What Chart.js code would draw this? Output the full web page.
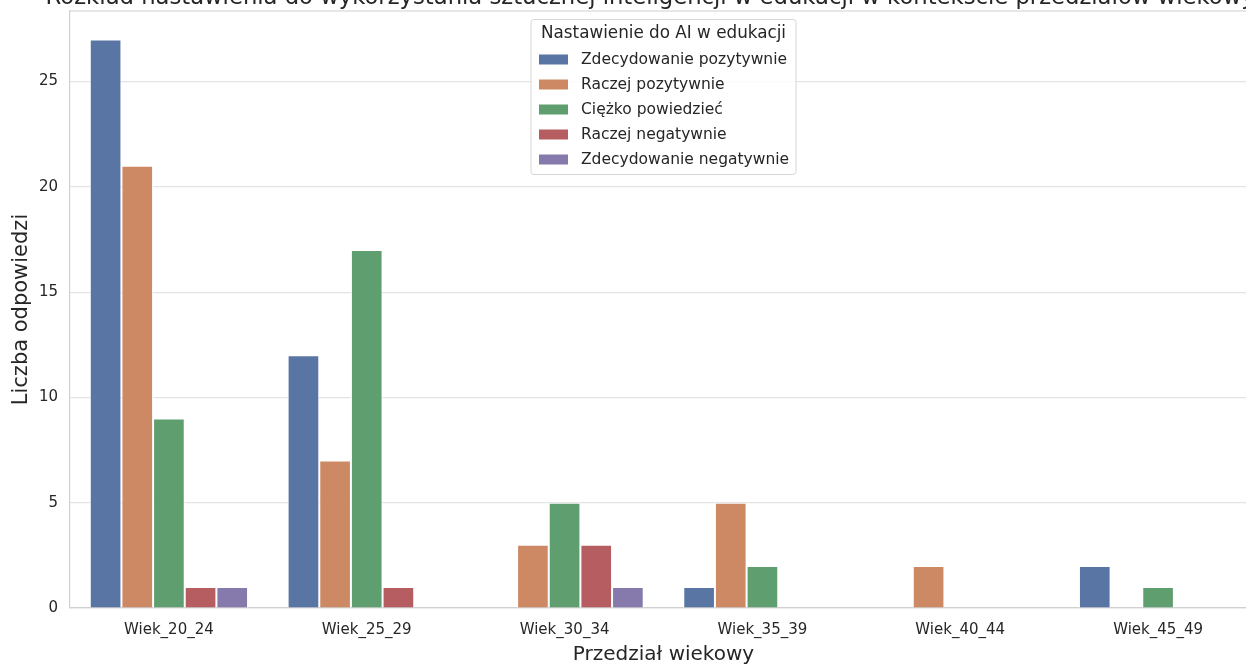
<!DOCTYPE html>
<html>
<head>
<meta charset="utf-8">
<script src="https://cdn.jsdelivr.net/npm/chart.js@4"></script>
<style>
  html, body { margin: 0; padding: 0; background: #fff; }
  #okno { position: relative; width: 1246px; height: 664px; overflow: hidden; }
  #myChart { position: absolute; left: 0; top: 0; }
</style>
</head>
<body>
<div id="okno"><canvas id="myChart" width="1260" height="670" style="width:1260px;height:670px"></canvas></div>
<script>
// dane
var przedzialy = ['Wiek_20_24', 'Wiek_25_29', 'Wiek_30_34', 'Wiek_35_39', 'Wiek_40_44', 'Wiek_45_49'];
var nastawienia = ['Zdecydowanie pozytywnie', 'Raczej pozytywnie', 'Ciężko powiedzieć', 'Raczej negatywnie', 'Zdecydowanie negatywnie'];
var zdecydowaniePozytywnie = [27, 12, 0, 1, 0, 2];
var raczejPozytywnie = [21, 7, 3, 5, 2, 0];
var ciezkoPowiedziec = [9, 17, 5, 2, 0, 1];
var raczejNegatywnie = [1, 1, 3, 0, 0, 0];
var zdecydowanieNegatywnie = [1, 0, 1, 0, 0, 0];
var yTicks = [0, 5, 10, 15, 20, 25];

var kolory = ['#5975A4', '#CC8963', '#5F9E6E', '#B55D60', '#857AAB'];
var serie = [zdecydowaniePozytywnie, raczejPozytywnie, ciezkoPowiedziec, raczejNegatywnie, zdecydowanieNegatywnie];

var tytul = 'Rozkład nastawienia do wykorzystania sztucznej inteligencji w edukacji w kontekście przedziałów wiekowych';
var tekst = '#262626';
var font = 'DejaVu Sans';

// tytul i gorna krawedz osi (seaborn whitegrid)
var ramka = {
  id: 'ramka',
  afterDraw: function (chart) {
    var ctx = chart.ctx, a = chart.chartArea;
    ctx.save();
    ctx.strokeStyle = '#d0d0d0';
    ctx.lineWidth = 1.2;
    ctx.beginPath();
    ctx.moveTo(a.left, a.top);
    ctx.lineTo(a.right, a.top);
    ctx.stroke();
    ctx.fillStyle = tekst;
    ctx.font = '22.7px "' + font + '"';
    ctx.textAlign = 'center';
    ctx.textBaseline = 'alphabetic';
    ctx.fillText(tytul, (a.left + a.right) / 2, 4);
    ctx.restore();
  }
};

// legenda w srodku wykresu, jak w matplotlib
var legenda = {
  id: 'legenda',
  afterDraw: function (chart) {
    var ctx = chart.ctx, a = chart.chartArea;
    var w = 265, h = 155;
    var x = (a.left + a.right) / 2 - w / 2, y = 19.5;
    ctx.save();
    ctx.fillStyle = 'rgba(255,255,255,0.85)';
    ctx.strokeStyle = '#d6d6d6';
    ctx.lineWidth = 1;
    ctx.beginPath();
    ctx.roundRect(x, y, w, h, 3);
    ctx.fill();
    ctx.stroke();
    ctx.fillStyle = tekst;
    ctx.font = '16.8px "' + font + '"';
    ctx.textAlign = 'center';
    ctx.textBaseline = 'middle';
    ctx.fillText('Nastawienie do AI w edukacji', x + w / 2, y + 14);
    ctx.font = '15.5px "' + font + '"';
    ctx.textAlign = 'left';
    chart.data.datasets.forEach(function (ds, i) {
      var cy = y + 40 + i * 25;
      ctx.fillStyle = ds.backgroundColor;
      ctx.fillRect(x + 8, cy - 5, 29, 10);
      ctx.fillStyle = tekst;
      ctx.fillText(ds.label, x + 50, cy);
    });
    ctx.restore();
  }
};

var graficoContainer = document.getElementById('myChart');
var wykres = new Chart(graficoContainer, {
  type: 'bar',
  data: {
    labels: przedzialy,
    datasets: nastawienia.map(function (n, i) {
      return {
        label: n,
        data: serie[i],
        backgroundColor: kolory[i],
        borderColor: '#ffffff',
        borderWidth: 1,
        categoryPercentage: 0.8,
        barPercentage: 1.0
      };
    })
  },
  options: {
    responsive: false,
    devicePixelRatio: 1,
    animation: false,
    layout: { padding: { top: 11, left: 0, right: 3, bottom: 0 } },
    plugins: {
      legend: { display: false },
      title: { display: false },
      tooltip: { enabled: false }
    },
    scales: {
      x: {
        grid: { display: false, drawTicks: false },
        border: { color: '#d0d0d0', width: 1.2 },
        ticks: { color: tekst, font: { family: font, size: 15 }, padding: 13 },
        title: {
          display: true, text: 'Przedział wiekowy', color: tekst,
          font: { family: font, size: 20 }, padding: { top: 0, bottom: 3 }
        },
        afterFit: function (s) { s.height = 62; s.paddingLeft = 0; s.paddingRight = 0; }
      },
      y: {
        min: 0,
        max: 28.35,
        grid: { color: '#e4e4e4', lineWidth: 1.2, drawTicks: false },
        border: { color: '#d0d0d0', width: 1.2 },
        ticks: { stepSize: 5, color: tekst, font: { family: font, size: 15 }, padding: 12 },
        afterBuildTicks: function (s) {
          s.ticks = yTicks.map(function (v) { return { value: v }; });
        },
        title: {
          display: true, text: 'Liczba odpowiedzi', color: tekst,
          font: { family: font, size: 21 }, padding: { top: 9, bottom: 0 }
        },
        afterFit: function (s) { s.width = 70; s.paddingTop = 0; s.paddingBottom = 0; }
      }
    }
  },
  plugins: [ramka, legenda]
});
</script>
</body>
</html>
